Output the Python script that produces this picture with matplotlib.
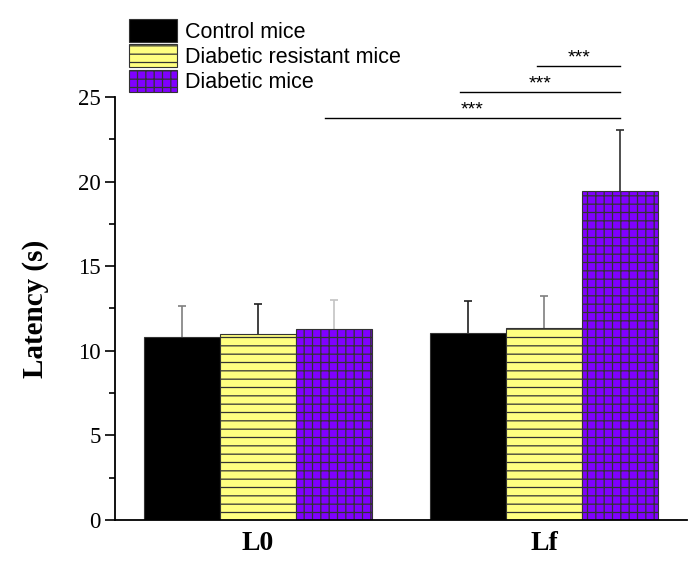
import matplotlib
matplotlib.use("Agg")
import matplotlib.pyplot as plt
import numpy as np
from matplotlib.ticker import MultipleLocator

# data
groups = ["L0", "Lf"]
series = ["Control mice", "Diabetic resistant mice", "Diabetic mice"]
control = [10.84, 11.03]
resistant = [10.98, 11.33]
diabetic = [11.29, 19.46]
control_err = [1.79, 1.93]
resistant_err = [1.80, 1.93]
diabetic_err = [1.69, 3.57]

# significance brackets: (x start, x end, height, label)
sig_bars = [
    (0.233, 1.266, 23.76, "***"),
    (0.705, 1.266, 25.30, "***"),
    (0.977, 1.266, 26.83, "***"),
]

FILL = ["#000000", "#FFFF80", "#8000FF"]
HATCH = [None, "--", "++"]
ERR_COLORS = [["#7f7f7f", "#202020"], ["#202020", "#7f7f7f"], ["#c4c4c4", "#303030"]]

plt.rcParams["hatch.linewidth"] = 0.9
plt.rcParams["hatch.color"] = "black"

fig = plt.figure(figsize=(6.89, 5.63), dpi=100)
ax = fig.add_axes([0.167, 0.0764, 0.830, 0.7513])

x = np.arange(len(groups))
width = 0.266
values = [control, resistant, diabetic]
errors = [control_err, resistant_err, diabetic_err]

for i, (name, vals, errs) in enumerate(zip(series, values, errors)):
    pos = x + (i - 1) * width
    ax.bar(pos, vals, width, color=FILL[i], hatch=HATCH[i], edgecolor="#333333",
           linewidth=0.8, label=name, zorder=2)
    for j in range(len(groups)):
        eb = ax.errorbar(pos[j], vals[j], yerr=[[0], [errs[j]]], fmt="none",
                         ecolor=ERR_COLORS[i][j], elinewidth=1.2, capsize=3,
                         capthick=1.2, zorder=1)
        eb[1][0].set_visible(False)  # no cap at the bar top

for x0, x1, h, lab in sig_bars:
    ax.plot([x0, x1], [h, h], color="black", linewidth=1.0, clip_on=False)
    ax.text((x0 + x1) / 2, h + 0.5, lab, ha="center", va="center",
            fontsize=14, family="Liberation Sans")

ax.set_xlim(-0.5, 1.5)
ax.set_ylim(0, 25)
ax.yaxis.set_major_locator(MultipleLocator(5))
ax.yaxis.set_minor_locator(MultipleLocator(2.5))
ax.set_xticks(x)
ax.set_xticklabels(groups, fontsize=20, fontweight="bold", family="Liberation Serif")
ax.tick_params(axis="x", length=0, pad=8)
ax.tick_params(axis="y", which="major", length=7, width=1.2, labelsize=16.5, direction="out")
ax.tick_params(axis="y", which="minor", length=4, width=1.2, direction="out")
for lab in ax.get_yticklabels():
    lab.set_family("Liberation Serif")

ax.set_ylabel("Latency (s)", fontsize=21, fontweight="bold", family="Liberation Serif", labelpad=21)

for side in ["top", "right"]:
    ax.spines[side].set_visible(False)
for side in ["left", "bottom"]:
    ax.spines[side].set_linewidth(1.3)

ax.legend(loc="upper left", bbox_to_anchor=(0.01, 1.205), frameon=False,
          prop={"family": "Liberation Sans", "size": 15.5}, handlelength=2.2,
          handleheight=1.25, handletextpad=0.4, labelspacing=0.08, borderaxespad=0)

fig.savefig("out.png", dpi=100)
